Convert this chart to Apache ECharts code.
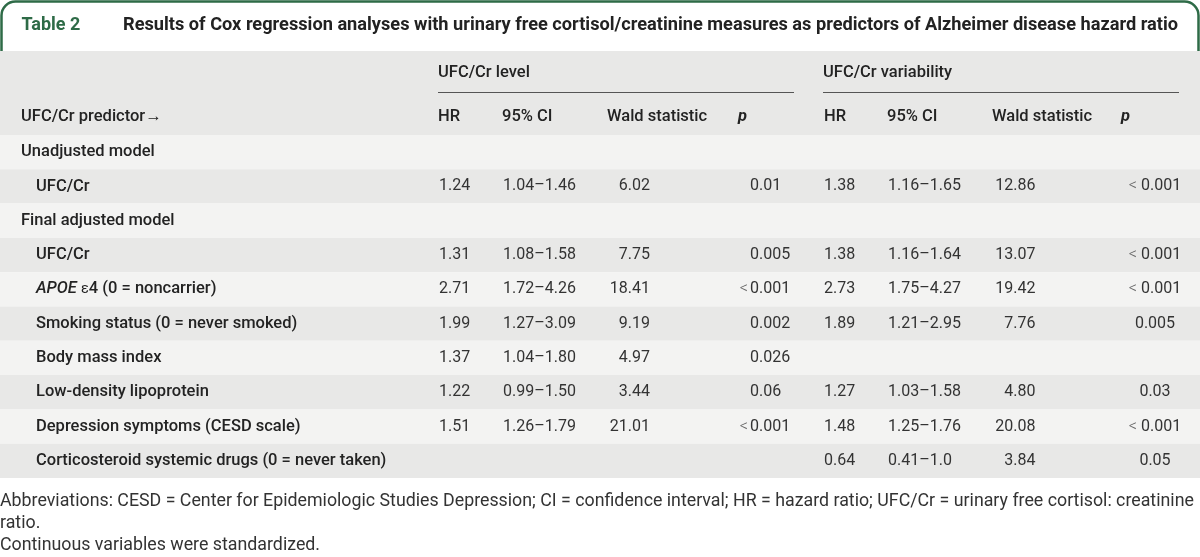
<!DOCTYPE html>
<html><head><meta charset="utf-8">
<script src="https://cdn.jsdelivr.net/npm/echarts@6/dist/echarts.min.js"></script>
<style>html,body{margin:0;padding:0;background:#fff}#c{width:1200px;height:557px}</style>
</head><body><div id="c"></div>
<script>
// ---- data ----
const tableNumber = 'Table 2';
const tableTitle = 'Results of Cox regression analyses with urinary free cortisol/creatinine measures as predictors of Alzheimer disease hazard ratio';
const groupHeaders = ['UFC/Cr level', 'UFC/Cr variability'];
const columnHeaders = ['HR', '95% CI', 'Wald statistic', 'p'];
const predictorHeader = 'UFC/Cr predictor\u2192';
const rowLabels = ['Unadjusted model', 'UFC/Cr', 'Final adjusted model', 'UFC/Cr',
  '{i|APOE} {e|\u03b5}4 (0 = noncarrier)', 'Smoking status (0 = never smoked)', 'Body mass index',
  'Low-density lipoprotein', 'Depression symptoms (CESD scale)', 'Corticosteroid systemic drugs (0 = never taken)'];
const rowIsSection = [true, false, true, false, false, false, false, false, false, false];
const levelHR   = ['', '1.24', '', '1.31', '2.71', '1.99', '1.37', '1.22', '1.51', ''];
const levelCI   = ['', '1.04\u20131.46', '', '1.08\u20131.58', '1.72\u20134.26', '1.27\u20133.09', '1.04\u20131.80', '0.99\u20131.50', '1.26\u20131.79', ''];
const levelWald = ['', '6.02', '', '7.75', '18.41', '9.19', '4.97', '3.44', '21.01', ''];
const levelP    = ['', '0.01', '', '0.005', '<0.001', '0.002', '0.026', '0.06', '<0.001', ''];
const varHR     = ['', '1.38', '', '1.38', '2.73', '1.89', '', '1.27', '1.48', '0.64'];
const varCI     = ['', '1.16\u20131.65', '', '1.16\u20131.64', '1.75\u20134.27', '1.21\u20132.95', '', '1.03\u20131.58', '1.25\u20131.76', '0.41\u20131.0'];
const varWald   = ['', '12.86', '', '13.07', '19.42', '7.76', '', '4.80', '20.08', '3.84'];
const varP      = ['', '<0.001', '', '<0.001', '<0.001', '0.005', '', '0.03', '<0.001', '0.05'];
const footnotes = ['Abbreviations: CESD = Center for Epidemiologic Studies Depression; CI = confidence interval; HR = hazard ratio; UFC/Cr = urinary free cortisol: creatinine',
  'ratio.', 'Continuous variables were standardized.'];

// ---- layout / style ----
const FONT = 'Roboto, "Noto Sans", sans-serif';
const GREEN = '#2e6b47';
const DARK = '#e8e8e7', LIGHT = '#f3f3f2';
const TEXT = '#232323', NUM = '#333333';
const FS = 16, LFS = 16.5;
const colX = { label: 21, indent: 36, lHR: 439, lCI: 503, lWald: 650, lP: 750, vHR: 824, vCI: 888, vWald: 1035.5, vP: 1155 };
const headX = { lHR: 438, lCI: 502, lWald: 607, lP: 738, vHR: 824, vCI: 887, vWald: 992, vP: 1121 };
const tableTop = 135, rowH = 34.3;

const chart = echarts.init(document.getElementById('c'), null, { renderer: 'canvas' });

function txt(x, y, text, opt) {
  return { type: 'text', x: x, y: y, z: 2, style: Object.assign({ text: text, fill: TEXT, fontFamily: FONT, fontSize: LFS, fontWeight: 500, verticalAlign: 'middle', align: 'left' }, opt || {}) };
}

const graphics = [
  { type: 'rect', shape: { x: 1.5, y: 1.5, width: 1197, height: 90, r: [14, 14, 0, 0] }, style: { fill: '#fff', stroke: GREEN, lineWidth: 2.5 }, z: 0 },
  { type: 'rect', shape: { x: 0, y: 51, width: 1200, height: tableTop - 51 }, style: { fill: DARK }, z: 1 },
  txt(21.5, 25, tableNumber, { fill: GREEN, fontSize: 18, fontWeight: 'bold' }),
  txt(123, 25, tableTitle, { fill: '#222', fontSize: 18.2, fontWeight: 'bold' }),
  txt(438, 73, groupHeaders[0]),
  txt(823, 73, groupHeaders[1]),
  { type: 'line', shape: { x1: 438, y1: 92.5, x2: 794, y2: 92.5 }, style: { stroke: '#555', lineWidth: 1 }, z: 2 },
  { type: 'line', shape: { x1: 823, y1: 92.5, x2: 1179, y2: 92.5 }, style: { stroke: '#555', lineWidth: 1 }, z: 2 },
  txt(21, 117, predictorHeader)
];
['l', 'v'].forEach(function (g) {
  ['HR', 'CI', 'Wald', 'P'].forEach(function (k, j) {
    const opt = k === 'P' ? { fontStyle: 'italic', fontWeight: 'bold' } : {};
    graphics.push(txt(headX[g + k], 117, columnHeaders[j], opt));
  });
});
footnotes.forEach(function (f, i) {
  graphics.push(txt(0, 502 + i * 22, f, { fontWeight: 'normal', fill: '#333', fontSize: 17.8 }));
});

const LT = { fill: '#666', fontFamily: FONT, fontSize: FS, fontWeight: 300 };
function textEl(x, y, s, align, extra) {
  return { type: 'text', style: Object.assign({ x: x, y: y, text: s, fill: NUM, fontFamily: FONT, fontSize: FS, fontWeight: 'normal', align: align, verticalAlign: 'middle' }, extra || {}) };
}
function pCellLeft(api, x, i, s) {
  if (!s) return [];
  const p = api.coord([x, i]);
  if (s.charAt(0) === '<') {
    return [textEl(p[0] - 2, p[1], '<', 'right', LT), textEl(p[0], p[1], s.slice(1), 'left')];
  }
  return [textEl(p[0], p[1], s, 'left')];
}
function pCellCenter(api, x, i, s) {
  if (!s) return [];
  const p = api.coord([x, i]);
  const t = s.charAt(0) === '<' ? '{lt|<} ' + s.slice(1) : s;
  return [textEl(p[0], p[1], t, 'center', { rich: { lt: LT } })];
}
function numCell(api, x, i, s, align) {
  if (!s) return [];
  const p = api.coord([x, i]);
  return [textEl(p[0], p[1], s, align)];
}

function renderItem(params, api) {
  const i = api.value(1);
  const c = api.coord([0, i]);
  const h = api.size([0, 1])[1];
  const cs = params.coordSys;
  let children = [{ type: 'rect', shape: { x: cs.x, y: c[1] - h / 2, width: cs.width, height: h }, style: { fill: i % 2 === 0 ? LIGHT : DARK } }];
  const lp = api.coord([rowIsSection[i] ? colX.label : colX.indent, i]);
  children.push({ type: 'text', style: { x: lp[0], y: lp[1], text: rowLabels[i], fill: TEXT, fontFamily: FONT, fontSize: LFS, fontWeight: 500, align: 'left', verticalAlign: 'middle',
    rich: { i: { fontStyle: 'italic', fontWeight: 500, fontFamily: FONT, fontSize: LFS, fill: TEXT }, e: { fontFamily: FONT, fontSize: LFS - 2, fontWeight: 'normal', fill: TEXT } } } });
  children = children.concat(
    numCell(api, colX.lHR, i, levelHR[i], 'left'),
    numCell(api, colX.lCI, i, levelCI[i], 'left'),
    numCell(api, colX.lWald, i, levelWald[i], 'right'),
    pCellLeft(api, colX.lP, i, levelP[i]),
    numCell(api, colX.vHR, i, varHR[i], 'left'),
    numCell(api, colX.vCI, i, varCI[i], 'left'),
    numCell(api, colX.vWald, i, varWald[i], 'right'),
    pCellCenter(api, colX.vP, i, varP[i])
  );
  return { type: 'group', children: children };
}

chart.setOption({
  animation: false,
  grid: { left: 0, right: 0, top: tableTop, height: rowH * rowLabels.length },
  xAxis: { type: 'value', min: 0, max: 1200, show: false },
  yAxis: { type: 'category', data: rowLabels.map(function (_, i) { return i; }), inverse: true, show: false, boundaryGap: true },
  graphic: graphics,
  series: [{ type: 'custom', renderItem: renderItem, data: rowLabels.map(function (_, i) { return [0, i]; }), encode: { x: 0, y: 1 }, z: 1 }]
});
</script></body></html>
